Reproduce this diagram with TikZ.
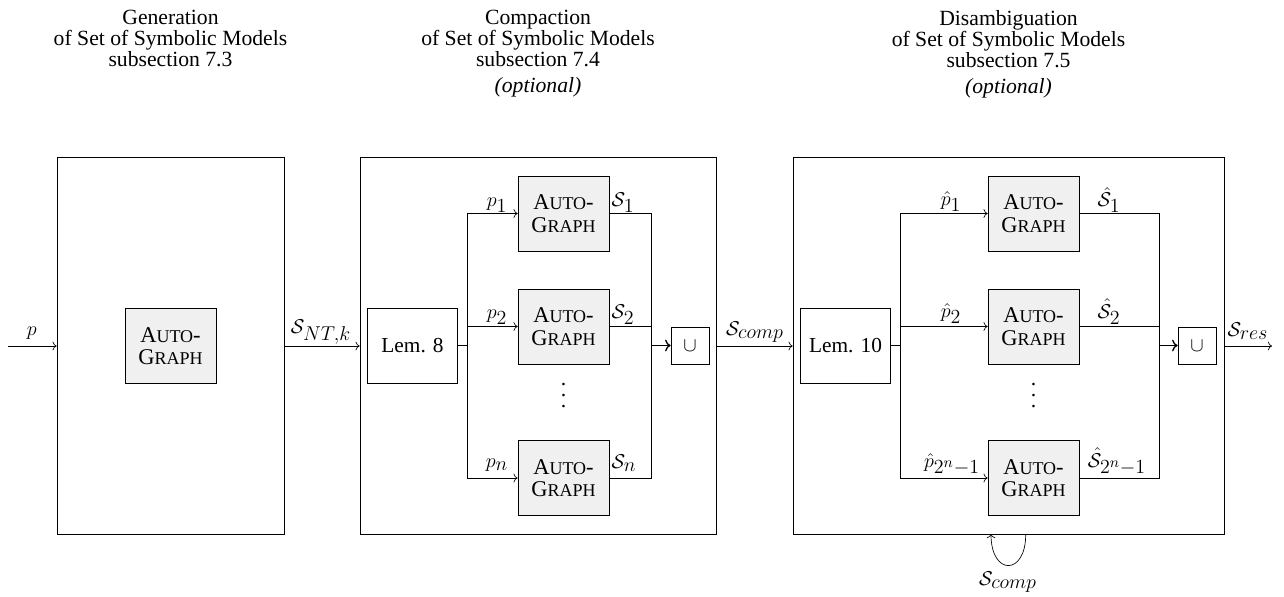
\documentclass[tikz,border=0pt]{standalone}
\usepackage{fontspec}
\setmainfont{Liberation Serif}
\usetikzlibrary{arrows.meta}
\DeclareMathSizes{12.6}{12.6}{12}{9}
\newcommand{\fsc}[1]{{\fontsize{10.8}{10.8}\selectfont #1}}
\newcommand{\agtext}{A\fsc{UTO}-\\G\fsc{RAPH}}
\newcommand{\myvdots}{\vbox{\baselineskip6.6pt\lineskiplimit0pt\hbox{.}\hbox{.}\hbox{.}}}
\begin{document}
\begin{tikzpicture}[x=0.6pt,y=-0.6pt,
  every node/.style={font=\fontsize{12.6}{12.6}\selectfont},
  outer/.style={draw,minimum height=377*0.6pt,inner sep=0pt},
  agbox/.style={draw,fill=black!6,minimum width=91*0.6pt,minimum height=75*0.6pt,align=center,inner sep=0pt,font=\fontsize{13.5}{13.5}\selectfont},
  lembox/.style={draw,minimum width=90*0.6pt,minimum height=75*0.6pt,inner sep=0pt,font=\fontsize{12.8}{12.8}\selectfont},
  ubox/.style={draw,minimum width=38*0.6pt,minimum height=37*0.6pt,inner sep=0pt},
  title/.style={align=center,anchor=north,inner sep=0pt,font=\fontsize{13}{12.6}\selectfont},
  flow/.style={->},
  bus/.style={thick},
  lbl/.style={anchor=base,inner sep=0pt},
  dotsnode/.style={inner sep=0pt,font=\fontsize{13}{13}\selectfont}
]
\useasboundingbox (0,0) rectangle (1284,596);
% titles
\node[title] (t1) at (170.5,10) {Generation\\of Set of Symbolic Models\\subsection 7.3};
\node[title] (t2) at (538,10) {Compaction\\of Set of Symbolic Models\\subsection 7.4\\[3pt]\textit{(optional)}};
\node[title] (t3) at (1008.5,10) {Disambiguation\\of Set of Symbolic Models\\subsection 7.5\\[3pt]\textit{(optional)}};
% outer boxes
\node[outer,minimum width=227*0.6pt] (B1) at (170.5,345.5) {};
\node[outer,minimum width=356*0.6pt] (B2) at (538,345.5) {};
\node[outer,minimum width=431*0.6pt] (B3) at (1008.5,345.5) {};
% stage 1
\node[agbox] (AG0) at (170.5,346) {\agtext};
% stage 2
\node[lembox] (L8) at (412.5,345.5) {Lem. 8};
\node[agbox] (A1) at (563.5,213.5) {\agtext};
\node[agbox] (A2) at (563.5,326.5) {\agtext};
\node[agbox] (An) at (563.5,478) {\agtext};
\node[dotsnode] (d1) at (563.5,396) {\myvdots};
\node[ubox] (U1) at (690,345.5) {$\cup$};
\coordinate (br1) at (467.7,345.5);
\coordinate (jn1) at (651.7,345.5);
% stage 3
\node[lembox] (L10) at (845.5,345.5) {Lem. 10};
\node[agbox] (H1) at (1033.5,213.5) {\agtext};
\node[agbox] (H2) at (1033.5,326.5) {\agtext};
\node[agbox] (Hn) at (1033.5,478) {\agtext};
\node[dotsnode] (d2) at (1033.5,396) {\myvdots};
\node[ubox] (U2) at (1197,345.5) {$\cup$};
\coordinate (br2) at (900,345.5);
\coordinate (jn2) at (1159,345.5);
% external arrows
\coordinate (in) at (8,346);
\coordinate (out) at (1272,346);
\draw[flow] (in) -- (in -| B1.west);
\draw[flow] (B1.east |- in) -- (B2.west |- in);
\draw[flow] (B2.east |- in) -- (B3.west |- in);
\draw[flow] (B3.east |- in) -- (out);
\node[lbl] (lp) at (31.7,335) {$p$};
\node[lbl] (lsnt) at (321,333) {$\mathcal{S}_{NT,k}$};
\node[lbl] (lsc) at (755,335) {$\mathcal{S}_{comp}$};
\node[lbl] (lsr) at (1248,336) {$\mathcal{S}_{res}$};
% stage 2 wiring
\draw[bus] (L8.east) -- (br1);
\draw[flow] (br1) |- (A1.west);
\draw[flow] (br1) |- (A2.west);
\draw[flow] (br1) |- (An.west);
\draw (A1.east) -| (jn1);
\draw (A2.east) -| (jn1);
\draw (An.east) -| (jn1);
\draw[bus,->] (jn1) -- (U1.west);
\node[lbl] (lp1) at (497,206) {$p_1$};
\node[lbl] (lp2) at (497,318) {$p_2$};
\node[lbl] (lpn) at (497,467) {$p_n$};
\node[lbl] (ls1) at (623,206) {$\mathcal{S}_1$};
\node[lbl] (ls2) at (623,318) {$\mathcal{S}_2$};
\node[lbl] (lsn) at (624,468) {$\mathcal{S}_n$};
% stage 3 wiring
\draw[bus] (L10.east) -- (br2);
\draw[flow] (br2) |- (H1.west);
\draw[flow] (br2) |- (H2.west);
\draw[flow] (br2) |- (Hn.west);
\draw (H1.east) -| (jn2);
\draw (H2.east) -| (jn2);
\draw (Hn.east) -| (jn2);
\draw[bus,->] (jn2) -- (U2.west);
\node[lbl] (lh1) at (951,205) {$\hat{p}_1$};
\node[lbl] (lh2) at (951,317) {$\hat{p}_2$};
\node[lbl] (lhn) at (952,467) {$\hat{p}_{2^n-1}$};
\node[lbl] (lt1) at (1109,206.5) {$\hat{\mathcal{S}}_1$};
\node[lbl] (lt2) at (1109,318) {$\hat{\mathcal{S}}_2$};
\node[lbl] (ltn) at (1117,467) {$\hat{\mathcal{S}}_{2^n-1}$};
% feedback loop
\coordinate (lpA) at (1025.7,534);
\coordinate (lpB) at (991,534);
\draw[->] (lpA) .. controls (1026,576) and (991,576) .. (lpB);
\node[lbl] (lfb) at (1008,585) {$\mathcal{S}_{comp}$};
\end{tikzpicture}
\end{document}
